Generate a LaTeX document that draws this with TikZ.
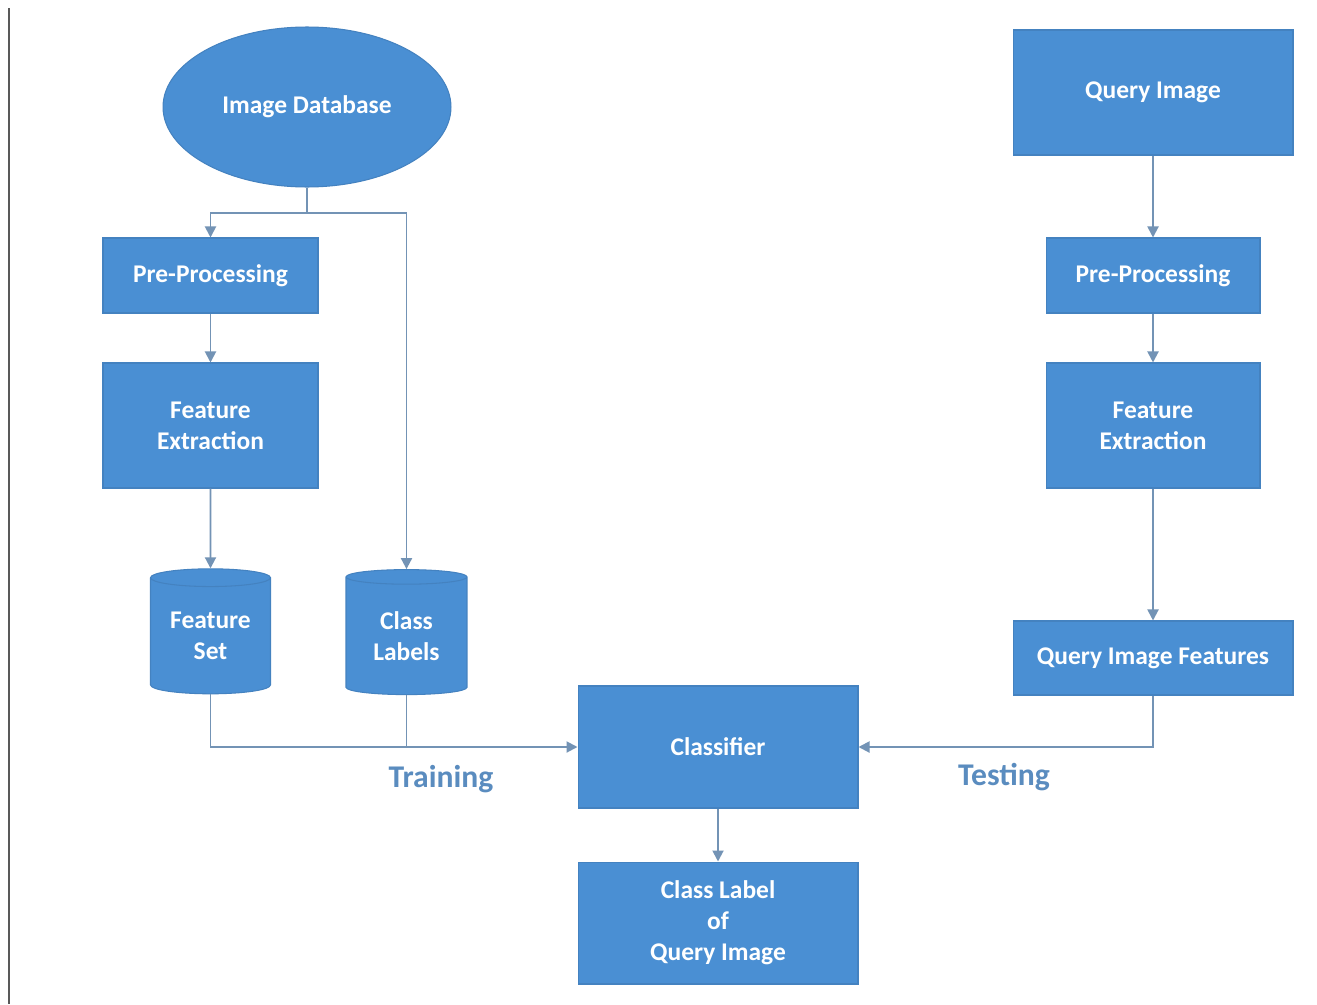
\documentclass[tikz,border=0pt]{standalone}
\usepackage{fontspec}
\setmainfont{Carlito}
\usetikzlibrary{shapes.geometric,arrows.meta}
\definecolor{boxblue}{HTML}{4A8FD3}
\definecolor{boxedge}{HTML}{4482C0}
\definecolor{linecol}{HTML}{7393B5}
\definecolor{labcol}{HTML}{5A8CBF}
\begin{document}
\begin{tikzpicture}[x=0.02cm,y=-0.02cm,
  base/.style={fill=boxblue,draw=boxedge,line width=0.6pt,text=white,align=center,
    font=\fontsize{14.5}{17.6}\selectfont\bfseries,inner sep=0pt},
  box/.style={base,rectangle},
  dbell/.style={base,ellipse},
  store/.style={base,cylinder,shape border rotate=90,aspect=0.22},
  conn/.style={draw=linecol,line width=1.1pt},
  arr/.style={conn,-{Triangle[length=2.2mm,width=2.2mm]}},
  lab/.style={text=labcol,font=\fontsize{18}{20}\selectfont\bfseries}]
\useasboundingbox[fill=white] (0,0) rectangle (1317,1004);
\draw[draw=black!65,line width=1.6pt] (9,8) -- (9,1004);

\node[dbell,minimum width=5.76cm,minimum height=3.2cm] (db) at (307,107) {Image Database};
\node[box,minimum width=4.3cm,minimum height=1.5cm] (ppL) at (210.5,275.5) {Pre-Processing};
\node[box,minimum width=4.3cm,minimum height=2.5cm] (feL) at (210.5,425.5) {Feature\\Extraction};
\node[store,minimum width=2.4cm,minimum height=2.5cm] (fs) at (210.5,636) {Feature\\Set};
\node[store,minimum width=2.42cm,minimum height=2.5cm] (cl) at (406.5,636) {Class\\Labels};
\node[box,minimum width=5.6cm,minimum height=2.44cm] (clf) at (718,747) {Classifier};
\node[box,minimum width=5.6cm,minimum height=2.44cm] (out) at (718,923) {Class Label\\of\\Query Image};
\node[box,minimum width=5.6cm,minimum height=2.5cm] (qi) at (1153,92.5) {Query Image};
\node[box,minimum width=4.28cm,minimum height=1.5cm] (ppR) at (1153,275.5) {Pre-Processing};
\node[box,minimum width=4.28cm,minimum height=2.5cm] (feR) at (1153,425.5) {Feature\\Extraction};
\node[box,minimum width=5.6cm,minimum height=1.48cm] (qif) at (1153,658) {Query Image Features};

\node[lab] (train) at (441,779) {Training};
\node[lab] (test) at (1004,777) {Testing};

\coordinate (jn) at (307,213);
\draw[conn] (db.south) -- (jn);
\draw[arr] (jn) -| (ppL.north);
\draw[arr] (jn) -| (cl.north);
\draw[arr] (ppL.south) -- (feL.north);
\draw[arr] (feL.south) -- (fs.north);
\draw[arr] (fs.south) |- (clf.west);
\draw[conn] (cl.south) -- (cl.south |- clf.west);
\draw[arr] (qi.south) -- (ppR.north);
\draw[arr] (ppR.south) -- (feR.north);
\draw[arr] (feR.south) -- (qif.north);
\draw[arr] (qif.south) |- (clf.east);
\draw[arr] (clf.south) -- (out.north);
\end{tikzpicture}
\end{document}
